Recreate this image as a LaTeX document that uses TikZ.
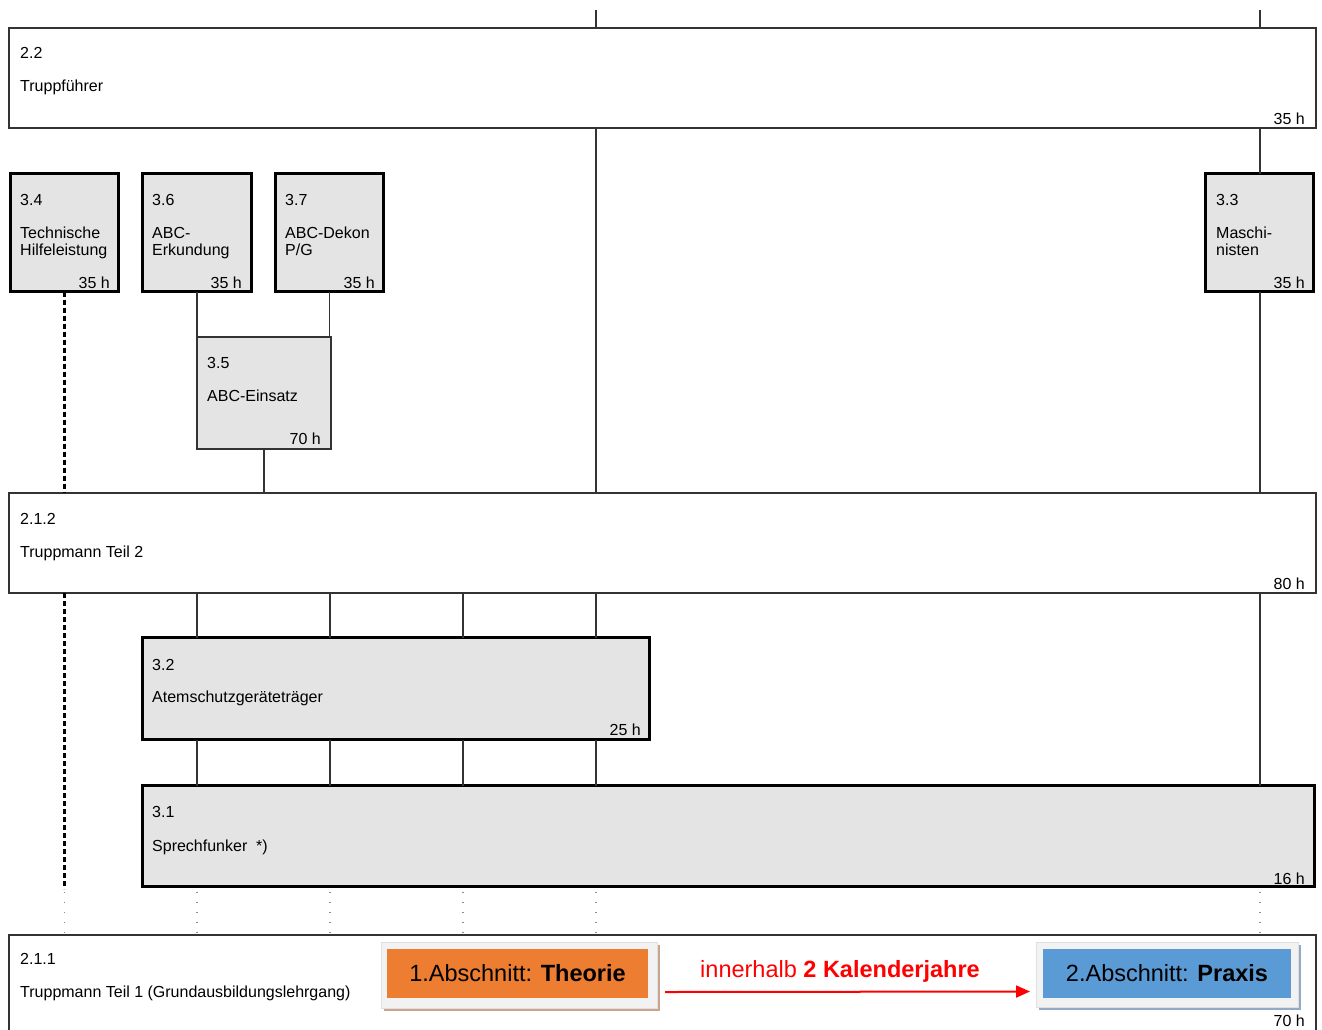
\documentclass[tikz,border=0pt]{standalone}
\usepackage{fontspec}
\setmainfont{Liberation Sans}
\usetikzlibrary{arrows.meta,calc}
\definecolor{ln}{HTML}{333333}
\definecolor{boxgray}{HTML}{E4E4E4}
\definecolor{frgray}{HTML}{F2F2F2}
\definecolor{orng}{HTML}{ED7D31}
\definecolor{blu}{HTML}{5B9BD5}
\definecolor{oshadow}{HTML}{C9A48E}
\definecolor{bshadow}{HTML}{93A9C6}
\tikzset{
  bigbox/.style={draw=ln,line width=1.5pt,fill=white,inner sep=0pt,outer sep=0pt,anchor=north west},
  thickbox/.style={draw=black,line width=2.8pt,fill=boxgray,inner sep=0pt,outer sep=0pt,anchor=north west},
  thinbox/.style={draw=ln,line width=1.2pt,fill=boxgray,inner sep=0pt,outer sep=0pt,anchor=north west},
  txt/.style={inner sep=0pt,anchor=base west,font=\fontsize{16}{17}\selectfont},
  hrs/.style={inner sep=0pt,anchor=base east,font=\fontsize{16}{17}\selectfont},
  conn/.style={draw=ln,line width=1.5pt},
  dashconn/.style={draw=black,line width=2.6pt,dash pattern=on 5pt off 3pt},
  dotconn/.style={draw=black!45,line width=1.2pt,dash pattern=on 1.2pt off 8.8pt},
  frame/.style={fill=frgray,draw=black!12,line width=0.8pt,inner sep=0pt,outer sep=0pt,anchor=north west},
  btn/.style={inner sep=0pt,outer sep=0pt,anchor=north west,font=\fontsize{23.5}{26}\selectfont,text=black},
}
\begin{document}
\begin{tikzpicture}[x=1pt,y=-1pt]
\useasboundingbox (0,0) rectangle (1322,1029);
\clip (0,0) rectangle (1322,1029);
\fill[white] (0,0) rectangle (1322,1029);

% column coordinates
\coordinate (top1) at (596,10);
\coordinate (top2) at (1260,10);
\coordinate (k0) at (64.5,0);
\coordinate (k1) at (197,0);
\coordinate (k2) at (330,0);
\coordinate (k3) at (463,0);
\coordinate (k4) at (596,0);
\coordinate (k5) at (1260,0);

% boxes
\node[bigbox,minimum width=1307pt,minimum height=100pt] (b22) at (9,28) {};
\node[thickbox,minimum width=108pt,minimum height=118pt] (b34) at (10.5,173.5) {};
\node[thickbox,minimum width=109pt,minimum height=118pt] (b36) at (142.5,173.5) {};
\node[thickbox,minimum width=108pt,minimum height=118pt] (b37) at (275.5,173.5) {};
\node[thickbox,minimum width=108pt,minimum height=118pt] (b33) at (1205.5,173.5) {};
\node[thinbox,minimum width=134pt,minimum height=112pt] (b35) at (197,337) {};
\node[bigbox,minimum width=1307pt,minimum height=100pt] (b212) at (9,493) {};
\node[thickbox,minimum width=507pt,minimum height=102pt] (b32) at (142.5,637.5) {};
\node[thickbox,minimum width=1172pt,minimum height=101pt] (b31) at (142.5,785.5) {};
\node[bigbox,minimum width=1307pt,minimum height=130pt] (b211) at (9,935) {};

% connectors
\draw[conn] (top1) -- (top1 |- b22.north);
\draw[conn] (top2) -- (top2 |- b22.north);
\draw[conn] (b22.south -| top1) -- (b212.north -| top1);
\draw[conn] (b22.south -| top2) -- (b33.north -| top2);
\draw[conn] (b33.south -| top2) -- (b212.north -| top2);
\draw[dashconn] (b34.south) -- (b212.north -| b34.south);
\draw[conn] (b36.south) -- (b35.north -| b36.south);
\draw[conn] (b37.south) -- (b35.north -| b37.south);
\draw[conn] (b35.south) -- (b212.north -| b35.south);
\foreach \k in {k1,k2,k3,k4} {
  \draw[conn] (b212.south -| \k) -- (b32.north -| \k);
  \draw[conn] (b32.south -| \k) -- (b31.north -| \k);
}
\draw[conn] (b212.south -| k5) -- (b31.north -| k5);
\coordinate (dend) at (64.5,889);
\draw[dashconn] (b212.south -| k0) -- (dend);
\foreach \k in {k0,k1,k2,k3,k4,k5} {
  \draw[dotconn] ([yshift=-5pt]b31.south -| \k) -- ([yshift=3pt]b211.north -| \k);
}

% texts
\node[txt] (t22a) at (20,58) {2.2};
\node[txt] (t22b) at (20,91) {Truppführer};
\node[hrs] (t22c) at (1305,124) {35 h};

\node[txt] (t34a) at (20,205) {3.4};
\node[txt] (t34b) at (20,238) {Technische};
\node[txt] (t34c) at (20,255) {Hilfeleistung};
\node[hrs] (t34d) at (110,288) {35 h};

\node[txt] (t36a) at (152,205) {3.6};
\node[txt] (t36b) at (152,238) {ABC-};
\node[txt] (t36c) at (152,255) {Erkundung};
\node[hrs] (t36d) at (242,288) {35 h};

\node[txt] (t37a) at (285,205) {3.7};
\node[txt] (t37b) at (285,238) {ABC-Dekon};
\node[txt] (t37c) at (285,255) {P/G};
\node[hrs] (t37d) at (375,288) {35 h};

\node[txt] (t33a) at (1216,205) {3.3};
\node[txt] (t33b) at (1216,238) {Maschi-};
\node[txt] (t33c) at (1216,255) {nisten};
\node[hrs] (t33d) at (1305,288) {35 h};

\node[txt] (t35a) at (207,368) {3.5};
\node[txt] (t35b) at (207,401) {ABC-Einsatz};
\node[hrs] (t35c) at (321,444) {70 h};

\node[txt] (t212a) at (20,524) {2.1.2};
\node[txt] (t212b) at (20,557) {Truppmann Teil 2};
\node[hrs] (t212c) at (1305,589) {80 h};

\node[txt] (t32a) at (152,670) {3.2};
\node[txt] (t32b) at (152,702) {Atemschutzgeräteträger};
\node[hrs] (t32c) at (641,735) {25 h};

\node[txt] (t31a) at (152,817) {3.1};
\node[txt] (t31b) at (152,851) {Sprechfunker\ \ *)};
\node[hrs] (t31c) at (1305,884) {16 h};

\node[txt] (t211a) at (20,964) {2.1.1};
\node[txt] (t211b) at (20,997) {Truppmann Teil 1 (Grundausbildungslehrgang)};
\node[hrs] (t211c) at (1305,1026.5) {70 h};

% buttons
\fill[oshadow] (384,945) rectangle (660,1011);
\node[frame,minimum width=276pt,minimum height=66pt] (ofr) at (381,942) {};
\node[btn,fill=orng,minimum width=261pt,minimum height=49pt] (obtn) at (387,949) {1.Abschnitt: \textbf{Theorie}};

\fill[bshadow] (1039,945) rectangle (1301,1010);
\node[frame,minimum width=262pt,minimum height=65pt] (bfr) at (1036,942) {};
\node[btn,fill=blu,minimum width=248pt,minimum height=49pt] (bbtn) at (1043,949) {2.Abschnitt: \textbf{Praxis}};

\draw[red,line width=2pt,-{Triangle[length=14pt,width=12pt]}] ($(ofr.east)+(8,17)$) -- ($(bfr.west)+(-6,17)$);
\node[inner sep=0pt,anchor=base,text=red,font=\fontsize{23.5}{26}\selectfont] (lbl) at (840,977) {innerhalb \textbf{2 Kalenderjahre}};
\end{tikzpicture}
\end{document}
